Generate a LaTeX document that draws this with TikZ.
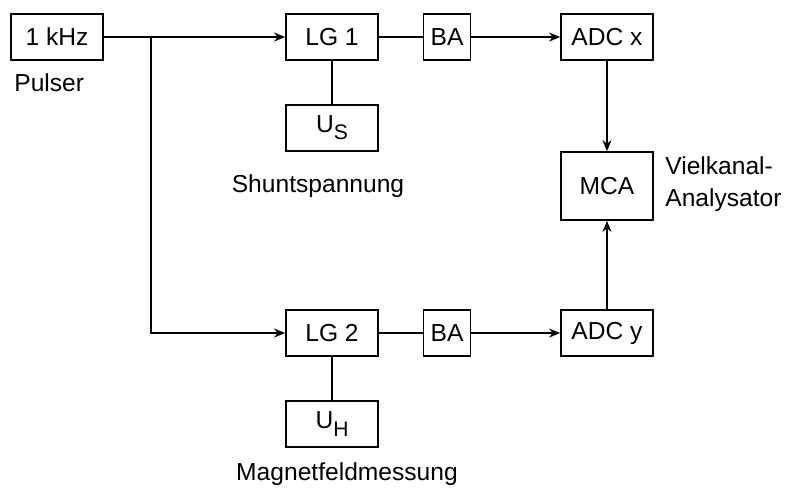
\documentclass[tikz,border=0pt]{standalone}
\usepackage{fontspec}
\setmainfont{Liberation Sans}
\usepackage{tikz}
\usetikzlibrary{positioning, arrows.meta}
\newcommand{\lowsub}[1]{\raisebox{-0.55ex}{\fontsize{12}{12}\selectfont #1}}
\tikzset{
  unit/.style={
    draw, rectangle, line width=1pt,
    minimum width=1.84cm, minimum height=0.92cm,
    font=\fontsize{14}{17}\selectfont, inner sep=1pt, align=center
  },
  ba/.style={unit, minimum width=0.94cm},
  mca/.style={unit, minimum height=1.36cm},
  lbl/.style={font=\fontsize{14}{18}\selectfont, inner sep=0pt},
  wire/.style={line width=1pt},
  sig/.style={-{Stealth[length=2.2mm, width=1.8mm]}, line width=1pt},
}
\begin{document}
\begin{tikzpicture}[x=0.02cm, y=-0.02cm]
        \useasboundingbox (0,0) rectangle (785,488);
        % top branch
        \node[unit] (pulser) at (57, 37) {1 kHz};
        \node[lbl, anchor=west] (pulsertxt) at (14, 83) {Pulser};
        \coordinate (split) at (151, 37);
        \node[unit] (lg1) at (332, 37) {LG 1};
        \node[unit] (us) at (332, 128) {U\lowsub{S}};
        \node[lbl] (ustxt) at (318, 186) {Shuntspannung};
        \node[ba] (ba1) at (447, 37) {BA};
        \node[unit] (adcx) at (607, 37) {ADC x};
        \node[mca] (mca) at (607, 186) {MCA};
        \node[lbl, anchor=west, align=left] (mcatxt) at (665, 184) {Vielkanal-\\Analysator};
        % bottom branch
        \node[unit] (lg2) at (332, 333) {LG 2};
        \node[unit] (uh) at (332, 424) {U\lowsub{H}};
        \node[lbl] (uhtxt) at (347, 474) {Magnetfeldmessung};
        \node[ba] (ba2) at (447, 333) {BA};
        \node[unit] (adcy) at (607, 333) {ADC y};
        % connections
        \draw[wire] (pulser) -- (split);
        \draw[sig] (split) -- (lg1);
        \draw[sig] (split) |- (lg2);
        \draw[wire] (lg1) -- (us);
        \draw[wire] (lg2) -- (uh);
        \draw[wire] (lg1) -- (ba1);
        \draw[wire] (lg2) -- (ba2);
        \draw[sig] (ba1) -- (adcx);
        \draw[sig] (ba2) -- (adcy);
        \draw[sig] (adcx) -- (mca);
        \draw[sig] (adcy) -- (mca);
\end{tikzpicture}
\end{document}
